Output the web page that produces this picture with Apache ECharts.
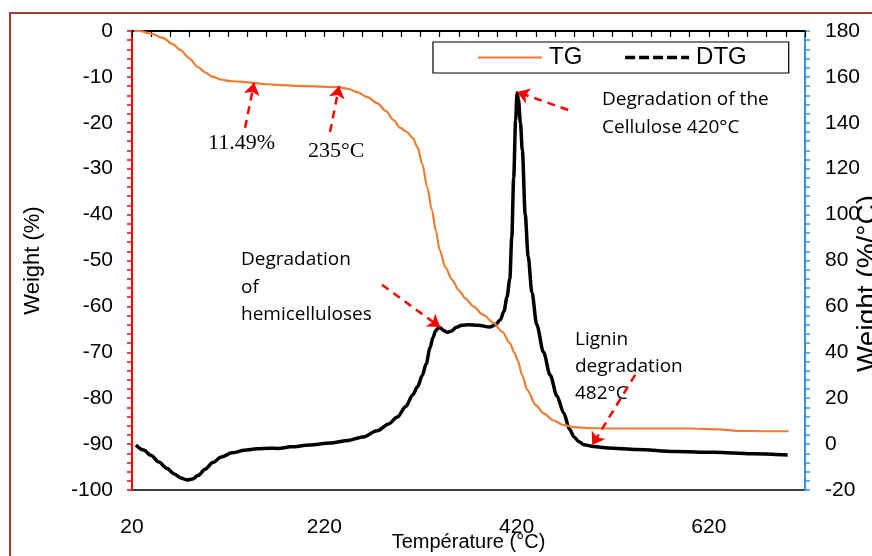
<!DOCTYPE html>
<html>
<head>
<meta charset="utf-8">
<script src="https://cdn.jsdelivr.net/npm/echarts@6/dist/echarts.min.js"></script>
<style>
html,body{margin:0;padding:0;background:#fff;}
#chart{width:872px;height:556px;}
</style>
</head>
<body>
<div id="chart"></div>
<script>
// ---- Data ----
const tgTemp = [22,28,40,52,62,70,80,88,96,104,113,122,135,146,160,174,198,234,245,254,265,275,284,292,299,306,312,317,322,327,332,336,340,346,353,360,367,375,385,396,405,413,418,421,426,431,440,448,458,468,480,495,520,560,600,630,650,680,703];
const tgWeight = [0,0,-0.6,-1.5,-2.8,-4.1,-6.0,-7.8,-9.0,-10.0,-10.6,-10.9,-11.1,-11.3,-11.6,-11.8,-12.0,-12.2,-12.6,-13.3,-14.4,-15.7,-17.4,-19.4,-21.1,-22.0,-23.3,-25.3,-29,-34,-39,-43.5,-47.7,-51.5,-54.2,-56.5,-58.3,-60,-61.8,-63.6,-65.5,-68,-70.2,-71.7,-75,-78.2,-81.5,-83.3,-84.8,-85.8,-86.3,-86.5,-86.6,-86.6,-86.6,-86.8,-87.1,-87.2,-87.2];

const dtgTemp = [24,32,40,48,56,64,71,77,83,89,96,104,113,124,137,150,163,172,185,205,226,245,260,275,287,296,305,312,317,322,326,330,333,336,339,341,344,348,352,357,363,370,380,392,398,403,407,410,413,415,417,419,420.5,422,424,426,429,432,436,441,448,455,462,469,475,480,485,490,500,515,545,585,625,665,702];
const dtgRate = [-0.4,-2.6,-5,-7.8,-10.5,-13,-14.8,-15.6,-15.2,-13.6,-11,-8,-5.6,-3.8,-2.7,-2.0,-1.8,-1.9,-1.2,-0.4,0.5,1.6,3.1,5.8,8.8,11.8,16.5,21.5,25,30,35,42,46.5,49.5,50.8,50.6,49.5,48.7,49.2,50.8,51.8,52,51.8,51,52,54.1,58,64,72,90,116,141,153,150,140,128,100,82,66,52,40,30,21,13.6,6.5,3.0,1.0,-0.3,-1.0,-1.7,-2.3,-3.2,-3.6,-4.2,-4.7];

const seriesNames = ['TG', 'DTG'];
const xTickLabels = [20, 220, 420, 620];
// annotation arrows: start and end points in (temperature, TG weight) units
const arrowStart = [[137.6,-21.1],[226,-22],[473.7,-17.2],[280,-55.3],[543.4,-74.9]];
const arrowEnd   = [[147,-11.3],[235.4,-12],[420.6,-13.3],[340.5,-64.5],[498.7,-90.2]];

const tgData = tgTemp.map((t,i)=>[t, tgWeight[i]]);
const dtgData = dtgTemp.map((t,i)=>[t, dtgRate[i]]);

const chart = echarts.init(document.getElementById('chart'));
const axisFont = 'Liberation Sans, Arial, sans-serif';
const noteFont = 'Open Sans, sans-serif';

const option = {
  backgroundColor: '#fff',
  animation: false,
  grid: {left: 132, right: 67, top: 31, bottom: 66, outerBoundsMode: 'none', containLabel: false,
    show: true, borderColor: '#000', borderWidth: 1.5, backgroundColor: 'transparent'},
  legend: {
    left: 433, top: 42,
    borderColor: '#000', borderWidth: 1.2,
    padding: [2, 42, 2, 44],
    itemWidth: 64, itemHeight: 14, itemGap: 41,
    itemStyle: {opacity: 0},
    textStyle: {fontSize: 24, lineHeight: 27, color: '#000', fontFamily: axisFont, padding: [0, 0, 0, 2]},
    data: [
      {name: seriesNames[0], itemStyle: {opacity: 0}},
      {name: seriesNames[1], itemStyle: {opacity: 0}, lineStyle: {type: [10, 4], width: 3.5}}
    ]
  },
  xAxis: {
    type: 'value', min: 20, max: 720, interval: 200,
    name: 'Température (°C)', nameLocation: 'middle', nameGap: 42, nameMoveOverlap: false,
    nameTextStyle: {fontSize: 20, color: '#000', fontFamily: axisFont},
    axisLine: {lineStyle: {color: '#000', width: 2}},
    axisTick: {show: true, length: 6, lineStyle: {color: '#000', width: 1.2}},
    minorTick: {show: true, splitNumber: 10, length: 6, lineStyle: {color: '#000', width: 1.2}},
    splitLine: {show: false},
    axisLabel: {fontSize: 21, color: '#000', fontFamily: axisFont, margin: 27,
      formatter: v => xTickLabels.includes(v) ? String(v) : ''}
  },
  yAxis: [
    {
      type: 'value', min: -100, max: 0, interval: 10, position: 'left',
      name: 'Weight (%)', nameLocation: 'middle', nameGap: 88, nameRotate: 90, nameMoveOverlap: false,
      nameTextStyle: {fontSize: 22, color: '#000', fontFamily: axisFont},
      axisLine: {show: true, lineStyle: {color: '#ff0000', width: 2}},
      axisTick: {show: true, length: 5, lineStyle: {color: '#ff0000', width: 1.5}},
      minorTick: {show: true, splitNumber: 5, length: 5, lineStyle: {color: '#ff0000', width: 1.5}},
      splitLine: {show: false},
      axisLabel: {fontSize: 21, color: '#000', fontFamily: axisFont, margin: 19}
    },
    {
      type: 'value', min: -20, max: 180, interval: 20, position: 'right',
      name: 'Weight (%/°C)', nameLocation: 'middle', nameGap: 49, nameRotate: 90, nameMoveOverlap: false,
      nameTextStyle: {fontSize: 28, color: '#000', fontFamily: axisFont, padding: [0, 46, 0, 0]},
      axisLine: {show: true, lineStyle: {color: '#3a8fd9', width: 2}},
      axisTick: {show: true, length: 5, lineStyle: {color: '#3a8fd9', width: 1.5}},
      minorTick: {show: true, splitNumber: 5, length: 5, lineStyle: {color: '#3a8fd9', width: 1.5}},
      splitLine: {show: false},
      axisLabel: {fontSize: 21, color: '#000', fontFamily: axisFont, margin: 20}
    }
  ],
  series: [
    {
      name: seriesNames[1], type: 'line', yAxisIndex: 1, data: dtgData,
      symbol: 'none', smooth: 0.3, smoothMonotone: 'x', z: 2,
      lineStyle: {color: '#000', width: 3.5}, itemStyle: {color: '#000'}
    },
    {
      name: seriesNames[0], type: 'line', yAxisIndex: 0, data: tgData,
      symbol: 'none', smooth: 0.3, smoothMonotone: 'x', z: 3,
      lineStyle: {color: '#ed7d31', width: 2.2}, itemStyle: {color: '#ed7d31'},
      markLine: {
        silent: true, animation: false,
        symbol: ['none', 'arrow'], symbolSize: 12,
        label: {show: false},
        lineStyle: {color: '#ff0000', type: [8, 6], width: 2.5},
        data: arrowStart.map((s, i) => [{coord: s}, {coord: arrowEnd[i]}])
      }
    }
  ],
  graphic: [
    {type: 'rect', z: -10, shape: {x: 10, y: 13, width: 900, height: 600}, style: {fill: 'none', stroke: '#a83c3c', lineWidth: 2}},
    {type: 'text', left: 208, top: 132, style: {text: '11.49%', font: '22px "Liberation Serif", serif', fill: '#000'}},
    {type: 'text', left: 308, top: 140, style: {text: '235°C', font: '22px "Liberation Serif", serif', fill: '#000'}},
    {type: 'text', left: 602, top: 86, style: {text: 'Degradation of the\nCellulose 420°C', fontSize: 19, fontFamily: noteFont, lineHeight: 28, fill: '#000'}},
    {type: 'text', left: 241, top: 246, style: {text: 'Degradation\nof\nhemicelluloses', fontSize: 19, fontFamily: noteFont, lineHeight: 27.5, fill: '#000'}},
    {type: 'text', left: 575, top: 326, style: {text: 'Lignin\ndegradation\n482°C', fontSize: 19, fontFamily: noteFont, lineHeight: 27, fill: '#000'}}
  ]
};
chart.setOption(option);
</script>
</body>
</html>
